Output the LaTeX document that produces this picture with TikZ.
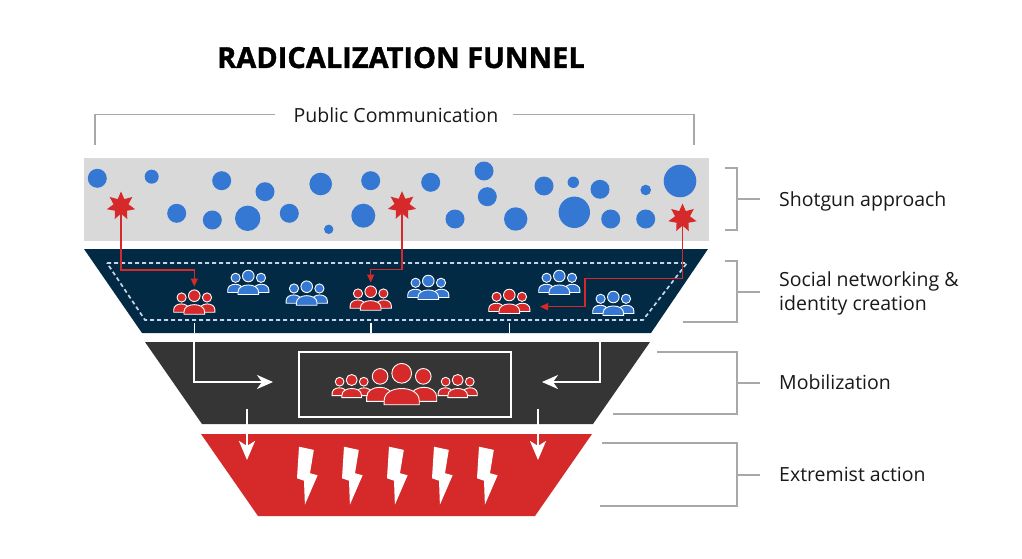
\documentclass[tikz,border=0pt]{standalone}
\usepackage{fontspec}
\setmainfont{Open Sans}
\newfontfamily\titlefont[BoldFeatures={FakeBold=1.2}]{Open Sans}
\usetikzlibrary{shapes.geometric,arrows.meta}
\definecolor{bandgray}{HTML}{D9D9D9}
\definecolor{dotblue}{HTML}{3478D4}
\definecolor{navyc}{HTML}{032A44}
\definecolor{funnelgray}{HTML}{353535}
\definecolor{funred}{HTML}{D62A2A}
\definecolor{brkc}{HTML}{A8A8A8}
\definecolor{dashc}{HTML}{C4D6E8}
\tikzset{
  pics/crowd/.style={code={
    \foreach \s in {-1,1}{
      \filldraw[fill=#1,draw=white,line width=0.9pt] ({\s*12.7},1.8) circle[radius=4.6];
      \filldraw[fill=#1,draw=white,line width=0.9pt] ({\s*13-7.6},16.5) -- ({\s*13-7.6},14) .. controls ({\s*13-7.6},6.3) and ({\s*13+7.6},6.3) .. ({\s*13+7.6},14) -- ({\s*13+7.6},16.5) -- cycle;
    }
    \filldraw[fill=#1,draw=white,line width=0.9pt] (0,0) circle[radius=5.8];
    \filldraw[fill=#1,draw=white,line width=0.9pt] (-10.3,18.5) -- (-10.3,16) .. controls (-10.3,6.6) and (10.3,6.6) .. (10.3,16) -- (10.3,18.5) -- cycle;
  }},
  pics/bolt/.style={code={
    \fill[white] (0,0) -- (14.8,3.2) -- (11,26.5) -- (18.6,28.6) -- (5.9,58) -- (5,34) -- (-2,31.6) -- cycle;
  }},
  starnode/.style={star, star points=7, star point ratio=1.9, minimum size=29pt, inner sep=0pt, fill=funred},
  redline/.style={draw=funred, line width=1.5pt, -{Triangle[length=8pt,width=7pt]}},
  whitearrow/.style={draw=white, line width=2.2pt, -{Stealth[length=16pt,width=14pt,inset=5pt]}},
  downarrow/.style={draw=white, line width=2.4pt, -{Stealth[length=19pt,width=16pt,inset=5pt]}},
  brk/.style={draw=brkc, line width=1.1pt},
  lab/.style={inner sep=0pt, font=\fontsize{19.5}{24}\selectfont, text=black!90},
}
\begin{document}
\begin{tikzpicture}[x=1pt,y=-1pt]
\fill[white] (0,0) rectangle (1022,559);
\useasboundingbox (0,0) rectangle (1022,559);

% title
\node[inner sep=0pt, font=\titlefont\bfseries\fontsize{29}{34}\selectfont, anchor=base] (title) at (401,68) {RADICALIZATION FUNNEL};

% public communication bracket
\node[lab, anchor=base] (pc) at (396,122) {Public Communication};
\coordinate (pcl) at (95,145);
\coordinate (pcr) at (694,145);
\draw[brk] (pcl) |- ([xshift=-18pt]pc.west);
\draw[brk] ([xshift=14pt]pc.east) -| (pcr);

% layer 1: shotgun
\fill[bandgray] (84,158) rectangle (709,241);
\foreach \cx/\cy/\r in {97.3/178.3/9.5, 151.7/176.7/7, 221.7/180.7/9.5, 265/191.7/9.5, 320.7/184/11.3, 370.7/180.7/9.5, 176.7/213.3/9.5, 212.3/220/9.5, 247.7/218.3/12.7, 289.3/213.3/9.5, 328.7/229.3/4.7, 363.3/215.7/12, 430.7/182.3/9.5, 484/171/9.5, 487.3/196.7/9.5, 455/219/9.5, 515.7/219/11.7, 544/186/9.5, 573.3/182.3/5.7, 600/189.3/9.5, 574.3/212.3/15.7, 610.7/219/9.5, 645.7/190/5.3, 645.7/219/9.5, 680/181/16.3}
  \fill[dotblue] (\cx,\cy) circle[radius=\r];

% layer 2: social networking
\fill[navyc] (84,249) -- (708,249) -- (651,333) -- (142,333) -- cycle;
\draw[dashc, line width=1.7pt, dash pattern=on 4pt off 3pt] (107,263) -- (687,263) -- (643,320) -- (145,320) -- cycle;
\foreach \vx in {194.3,370.7,509.3}
  \draw[white, line width=1.6pt] (\vx,323) -- (\vx,333);

\node[starnode] (s1) at (121,206) {};
\node[starnode] (s2) at (402,205.7) {};
\node[starnode] (s3) at (682.5,218) {};
\coordinate (k1) at (194.3,270);
\coordinate (g1t) at (194.3,286.5);
\coordinate (k2) at (370.7,269.3);
\coordinate (g2t) at (370.7,282.5);
\coordinate (k3) at (585,278.3);
\coordinate (g3t) at (540,306.7);
\draw[redline] (s1) |- (k1) -- (g1t);
\draw[redline] (s2) |- (k2) -- (g2t);
\draw[redline] (s3) |- (k3) |- (g3t);

\coordinate (g1) at (194.3,295.7);
\coordinate (g2) at (370.7,291.7);
\coordinate (g3) at (509.3,295);
\coordinate (b1) at (248.3,276);
\coordinate (b2) at (306.7,286.7);
\coordinate (b3) at (428.3,281);
\coordinate (b4) at (559.3,276);
\coordinate (b5) at (613.3,297);
\foreach \g in {g1,g2,g3} \pic at (\g) {crowd=funred};
\foreach \g in {b1,b2,b3,b4,b5} \pic at (\g) {crowd=dotblue};

% layer 3: mobilization
\fill[funnelgray] (145,342) -- (650,342) -- (593,424) -- (202,424) -- cycle;
\draw[white, line width=1.6pt] (299,352) rectangle (511,417);
\pic at (351.7,380) [scale=0.95] {crowd=funred};
\pic at (457.7,380) [scale=0.95] {crowd=funred};
\pic at (401.7,373.3) [scale=1.7] {crowd=funred};
\coordinate (w1) at (194.3,342);
\coordinate (w1e) at (273,382);
\coordinate (w2) at (600,342);
\coordinate (w2e) at (542,382);
\draw[whitearrow] (w1) |- (w1e);
\draw[whitearrow] (w2) |- (w2e);

% layer 4: extremist action
\fill[funred] (201,434) -- (592,434) -- (535,516) -- (258,516) -- cycle;
\foreach \k in {0,...,4} \pic at ({299+45*\k},446.7) {bolt};
\coordinate (d1) at (247,409);
\coordinate (d1e) at (247,460);
\coordinate (d2) at (538,409);
\coordinate (d2e) at (538,460);
\draw[downarrow] (d1) -- (d1e);
\draw[downarrow] (d2) -- (d2e);

% right-hand brackets and labels
\draw[brk] (725,168) -- (737,168) -- (737,230) -- (725,230);
\draw[brk] (737,199) -- (760,199);
\node[lab, anchor=base west] (l1) at (779,206.5) {Shotgun approach};

\draw[brk] (725,261) -- (737,261) -- (737,322) -- (683,322);
\draw[brk] (737,292) -- (760,292);
\node[lab, anchor=north west, align=left] (l2) at (779,271.5) {Social networking \&\\identity creation};

\draw[brk] (657,352) -- (737,352) -- (737,414) -- (613,414);
\draw[brk] (737,383) -- (760,383);
\node[lab, anchor=base west] (l3) at (779,389.3) {Mobilization};

\draw[brk] (602,443) -- (737,443) -- (737,506) -- (600,506);
\draw[brk] (737,475) -- (760,475);
\node[lab, anchor=base west] (l4) at (779,481.7) {Extremist action};
\end{tikzpicture}
\end{document}
